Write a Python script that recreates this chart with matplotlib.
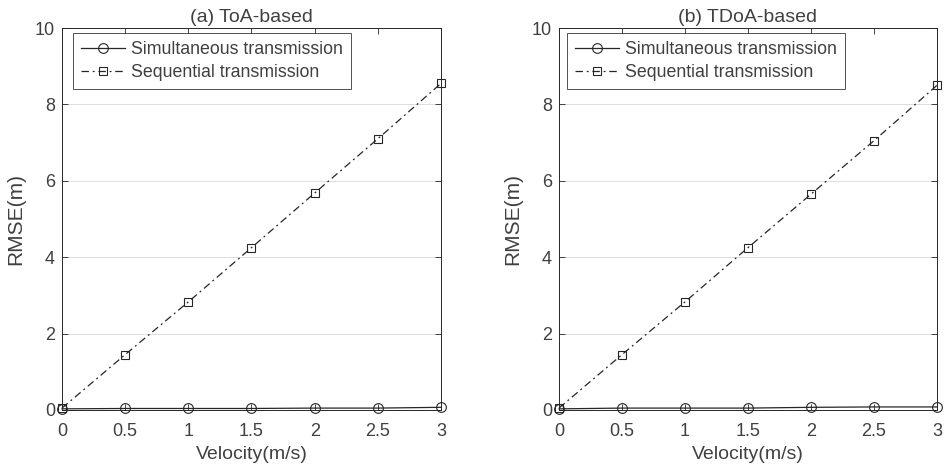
import matplotlib.pyplot as plt

plt.rcParams["font.family"] = ["Liberation Sans", "DejaVu Sans"]

# Data
velocity = [0, 0.5, 1, 1.5, 2, 2.5, 3]
toa_simultaneous = [0.03, 0.04, 0.04, 0.04, 0.05, 0.05, 0.07]
toa_sequential = [0.05, 1.45, 2.83, 4.25, 5.68, 7.10, 8.55]
tdoa_simultaneous = [0.03, 0.05, 0.05, 0.05, 0.07, 0.08, 0.08]
tdoa_sequential = [0.05, 1.45, 2.83, 4.25, 5.65, 7.05, 8.50]

titles = ["(a) ToA-based", "(b) TDoA-based"]
series = [(toa_simultaneous, toa_sequential), (tdoa_simultaneous, tdoa_sequential)]
xticks = [0, 0.5, 1, 1.5, 2, 2.5, 3]
xticklabels = ["0", "0.5", "1", "1.5", "2", "2.5", "3"]
yticks = [0, 2, 4, 6, 8, 10]

text_color = "#404040"
line_color = "#262626"

fig = plt.figure(figsize=(9.45, 4.7), dpi=100)
positions = [
    [62 / 945, 60 / 470, 379 / 945, 382 / 470],
    [559 / 945, 60 / 470, 378 / 945, 382 / 470],
]
legend_offsets = [(11 / 379, 1 - 5 / 382), (8 / 378, 1 - 5 / 382)]

for pos, title, (sim, seq), anchor in zip(positions, titles, series, legend_offsets):
    ax = fig.add_axes(pos)
    ax.plot(velocity, sim, color=line_color, linestyle="-", linewidth=0.9,
            marker="o", markersize=7, markerfacecolor="none",
            markeredgewidth=0.8, label="Simultaneous transmission", clip_on=False)
    ax.plot(velocity, seq, color=line_color, linestyle=(0, (6, 3, 1.5, 3)), linewidth=0.9,
            marker="s", markersize=6, markerfacecolor="none",
            markeredgewidth=0.8, label="Sequential transmission", clip_on=False)

    ax.set_xlim(0, 3)
    ax.set_ylim(0, 10)
    ax.set_xticks(xticks)
    ax.set_xticklabels(xticklabels)
    ax.set_yticks(yticks)
    ax.tick_params(direction="in", top=True, right=True, labelsize=13,
                   labelcolor=text_color, color=line_color, length=4, width=0.6)
    ax.tick_params(axis="x", pad=9)
    ax.tick_params(axis="y", pad=5)
    ax.grid(axis="y", color="#dcdcdc", linewidth=0.7)
    ax.set_axisbelow(True)
    for s in ax.spines.values():
        s.set_linewidth(0.7)
        s.set_color(line_color)

    ax.set_xlabel("Velocity(m/s)", fontsize=14, color=text_color, labelpad=5)
    ax.set_ylabel("RMSE(m)", fontsize=15, color=text_color, labelpad=7)
    ax.set_title(title, fontsize=14, color=text_color, pad=4)

    leg = ax.legend(loc="upper left", bbox_to_anchor=anchor, borderaxespad=0,
                    fontsize=12.8, frameon=True, fancybox=False,
                    handlelength=2.5, handletextpad=0.3,
                    labelspacing=0.35, borderpad=0.45)
    leg.get_frame().set_edgecolor(line_color)
    leg.get_frame().set_linewidth(0.7)
    for t in leg.get_texts():
        t.set_color(text_color)

fig.savefig("out.png", dpi=100)
